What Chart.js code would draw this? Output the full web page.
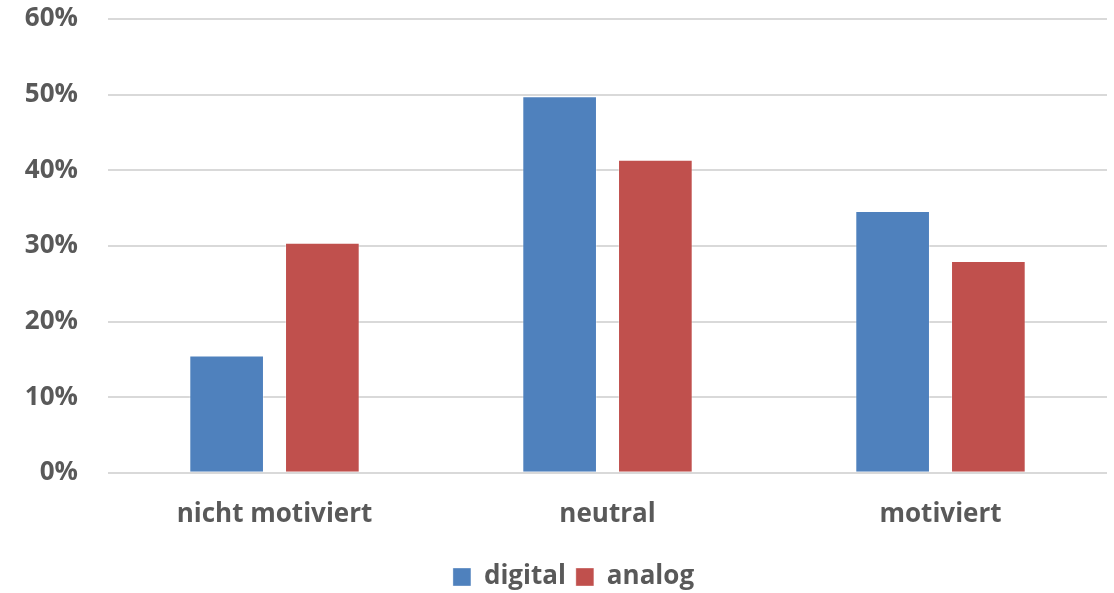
<!DOCTYPE html>
<html>
<head>
<meta charset="utf-8">
<script src="https://cdn.jsdelivr.net/npm/chart.js@4.4.1/dist/chart.umd.min.js"></script>
<style>
  html, body { margin: 0; padding: 0; background: #ffffff; }
  #wrap { width: 1114px; height: 593px; position: relative; }
</style>
</head>
<body>
<div id="wrap"><canvas id="c" width="1114" height="593"></canvas></div>
<script>
// Motivation levels by learning format (share of respondents)
const categories = ['nicht motiviert', 'neutral', 'motiviert'];
const digitalValues = [15.5, 49.8, 34.6];
const analogValues = [30.4, 41.4, 28.0];
const seriesNames = ['digital', 'analog'];
const yTicks = [0, 10, 20, 30, 40, 50, 60];

const FONT = '"Open Sans", Lato, sans-serif';
const TEXT = '#595959';
const FONT_SIZE = 26;

// Nudge the legend so it sits centred under the plot rather than the canvas
const legendOffset = {
  id: 'legendOffset',
  afterLayout(chart) {
    const lg = chart.legend;
    if (!lg) return;
    const dx = 20, dy = 7;
    lg.left += dx; lg.right += dx;
    lg.top += dy; lg.bottom += dy;
  }
};

new Chart(document.getElementById('c'), {
  type: 'bar',
  data: {
    labels: categories,
    datasets: [
      {
        label: seriesNames[0],
        data: digitalValues,
        backgroundColor: '#4F81BD',
        borderColor: 'rgba(255,255,255,0.35)',
        borderWidth: 1,
        categoryPercentage: 0.575,
        barPercentage: 0.78
      },
      {
        label: seriesNames[1],
        data: analogValues,
        backgroundColor: '#C0504D',
        borderColor: 'rgba(255,255,255,0.35)',
        borderWidth: 1,
        categoryPercentage: 0.575,
        barPercentage: 0.78
      }
    ]
  },
  options: {
    responsive: false,
    animation: false,
    layout: { padding: { left: 0, right: 7, top: 19, bottom: 0 } },
    plugins: {
      tooltip: { enabled: false },
      legend: {
        position: 'bottom',
        labels: {
          color: TEXT,
          font: { family: FONT, size: FONT_SIZE, weight: 'bold' },
          boxWidth: 18,
          boxHeight: 18,
          padding: 10
        }
      }
    },
    scales: {
      x: {
        grid: { display: false },
        border: { display: false },
        afterFit: (scale) => { scale.height -= 1; },
        ticks: {
          color: TEXT,
          font: { family: FONT, size: FONT_SIZE, weight: 'bold' },
          padding: 18
        }
      },
      y: {
        min: 0,
        max: 60,
        afterBuildTicks: (scale) => { scale.ticks = yTicks.map(v => ({ value: v })); },
        afterFit: (scale) => {
          scale.width = 108;
          scale.paddingTop = 0;
          scale.paddingBottom = 0;
        },
        grid: { color: '#d9d9d9', lineWidth: 2, drawTicks: false },
        border: { display: false },
        ticks: {
          color: TEXT,
          font: { family: FONT, size: FONT_SIZE, weight: 'bold' },
          padding: 30,
          callback: (v) => v + '%'
        }
      }
    }
  },
  plugins: [legendOffset]
});
</script>
</body>
</html>
